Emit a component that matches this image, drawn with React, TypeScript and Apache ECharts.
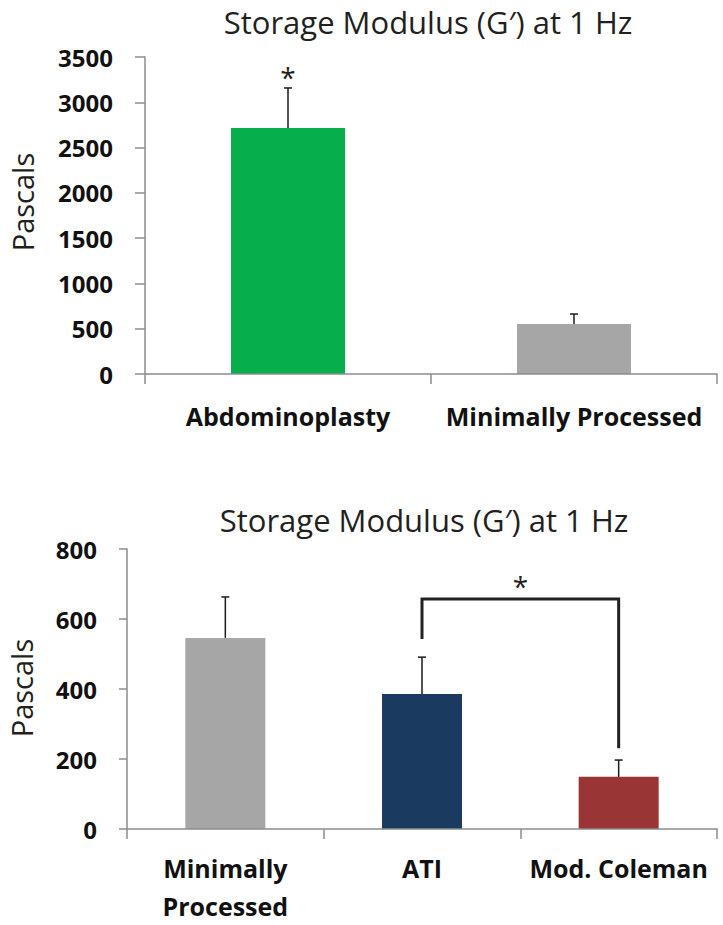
import React, { useEffect, useRef } from "react";
import * as echarts from "echarts";

// ---- Data ----
const titleText = "Storage Modulus (G\u2032) at 1 Hz";
const yAxisTitle = "Pascals";

const topCategories = ["Abdominoplasty", "Minimally Processed"];
const topValues = [2715, 552];
const topErrorTops = [3158, 662];
const topStars = ["*", ""];
const topColors = ["#07AF4C", "#A6A6A6"];
const topYMax = 3500;
const topYInterval = 500;

const bottomCategories = ["Minimally\nProcessed", "ATI", "Mod. Coleman"];
const bottomValues = [546, 386, 149];
const bottomErrorTops = [663, 491, 197];
const bottomColors = ["#A6A6A6", "#1B3A5F", "#993535"];
const bottomYMax = 800;
const bottomYInterval = 200;

// significance bracket between ATI (1) and Mod. Coleman (2)
const bracketFrom = 1;
const bracketTo = 2;
const bracketTopValue = 657;
const bracketLeftEndValue = 543;
const bracketRightEndValue = 231;
const bracketLabel = "*";

const TEXT_COLOR = "#231f20";
const AXIS_COLOR = "#8c8c8c";
const LABEL_FONT = "Open Sans";
const TITLE_FONT = "Open Sans";

function errorRender(params: any, api: any) {
  const x = api.value(0);
  const top = api.value(1);
  const mean = api.value(2);
  const star = params.seriesName === "topErr" ? topStars[params.dataIndex] : "";
  const pTop = api.coord([x, top]);
  const pMean = api.coord([x, mean]);
  const children: any[] = [
    {
      type: "line",
      shape: { x1: pTop[0], y1: pTop[1], x2: pMean[0], y2: pMean[1] },
      style: { stroke: "#1a1a1a", lineWidth: 1.5 },
    },
    {
      type: "line",
      shape: { x1: pTop[0] - 4, y1: pTop[1], x2: pTop[0] + 4, y2: pTop[1] },
      style: { stroke: "#1a1a1a", lineWidth: 1.5 },
    },
  ];
  if (star) {
    children.push({
      type: "text",
      x: pTop[0],
      y: pTop[1] - 11,
      style: {
        text: star,
        align: "center",
        verticalAlign: "middle",
        fontSize: 28,
        fontFamily: TITLE_FONT,
        fill: TEXT_COLOR,
      },
    });
  }
  return { type: "group", children };
}

function bracketRender(params: any, api: any) {
  const c0 = api.value(0);
  const c1 = api.value(1);
  const top = api.value(2);
  const leftEnd = api.value(3);
  const rightEnd = api.value(4);
  const pl = api.coord([c0, top]);
  const pr = api.coord([c1, top]);
  const plEnd = api.coord([c0, leftEnd]);
  const prEnd = api.coord([c1, rightEnd]);
  return {
    type: "group",
    children: [
      {
        type: "polyline",
        shape: {
          points: [
            [plEnd[0], plEnd[1]],
            [pl[0], pl[1]],
            [pr[0], pr[1]],
            [prEnd[0], prEnd[1]],
          ],
        },
        style: { stroke: "#222", lineWidth: 3, fill: "none", lineJoin: "miter" },
      },
      {
        type: "text",
        x: (pl[0] + pr[0]) / 2,
        y: pl[1] - 13,
        style: {
          text: bracketLabel,
          align: "center",
          verticalAlign: "middle",
          fontSize: 28,
          fontFamily: TITLE_FONT,
          fill: TEXT_COLOR,
        },
      },
    ],
  };
}

export default function App() {
  const ref = useRef<HTMLDivElement>(null);

  useEffect(() => {
    document.body.style.margin = "0";
    if (!ref.current) return;
    const chart = echarts.init(ref.current, null, { renderer: "svg" });

    const axisLineStyle = { color: AXIS_COLOR, width: 1.5 };
    const boldLabel = {
      color: "#111",
      fontWeight: "bold" as const,
      fontFamily: LABEL_FONT,
    };
    const plain = (v: number) => String(v);

    const option: any = {
      animation: false,
      backgroundColor: "#ffffff",
      grid: [
        { left: 145, top: 57, width: 572, height: 317 },
        { left: 127, top: 549, width: 590, height: 280 },
      ],
      xAxis: [
        {
          type: "category",
          gridIndex: 0,
          data: topCategories,
          z: 5,
          axisLine: { lineStyle: axisLineStyle },
          axisTick: { show: true, length: 10, lineStyle: axisLineStyle },
          axisLabel: { ...boldLabel, fontSize: 25, margin: 23, lineHeight: 38, interval: 0 },
        },
        {
          type: "category",
          gridIndex: 1,
          data: bottomCategories,
          z: 5,
          axisLine: { lineStyle: axisLineStyle },
          axisTick: { show: true, length: 10, lineStyle: axisLineStyle },
          axisLabel: { ...boldLabel, fontSize: 25, margin: 20, lineHeight: 38, interval: 0 },
        },
      ],
      yAxis: [
        {
          type: "value",
          gridIndex: 0,
          min: 0,
          max: topYMax,
          interval: topYInterval,
          axisLine: { show: true, lineStyle: axisLineStyle },
          axisTick: { show: true, length: 10, lineStyle: axisLineStyle },
          splitLine: { show: false },
          axisLabel: { ...boldLabel, fontSize: 24, margin: 32, formatter: plain },
        },
        {
          type: "value",
          gridIndex: 1,
          min: 0,
          max: bottomYMax,
          interval: bottomYInterval,
          axisLine: { show: true, lineStyle: axisLineStyle },
          axisTick: { show: true, length: 8, lineStyle: axisLineStyle },
          splitLine: { show: false },
          axisLabel: { ...boldLabel, fontSize: 24, margin: 30, formatter: plain },
        },
      ],
      series: [
        {
          name: "topBars",
          type: "bar",
          xAxisIndex: 0,
          yAxisIndex: 0,
          barWidth: 114,
          data: topValues.map((v, i) => ({ value: v, itemStyle: { color: topColors[i] } })),
        },
        {
          name: "topErr",
          type: "custom",
          xAxisIndex: 0,
          yAxisIndex: 0,
          renderItem: errorRender,
          encode: { x: 0, y: [1, 2] },
          z: 4,
          data: topValues.map((v, i) => [i, topErrorTops[i], v]),
        },
        {
          name: "bottomBars",
          type: "bar",
          xAxisIndex: 1,
          yAxisIndex: 1,
          barWidth: 80,
          data: bottomValues.map((v, i) => ({ value: v, itemStyle: { color: bottomColors[i] } })),
        },
        {
          name: "bottomErr",
          type: "custom",
          xAxisIndex: 1,
          yAxisIndex: 1,
          renderItem: errorRender,
          encode: { x: 0, y: [1, 2] },
          z: 4,
          data: bottomValues.map((v, i) => [i, bottomErrorTops[i], v]),
        },
        {
          name: "bracket",
          type: "custom",
          xAxisIndex: 1,
          yAxisIndex: 1,
          renderItem: bracketRender,
          encode: { x: [0, 1], y: [2, 3, 4] },
          z: 4,
          data: [[bracketFrom, bracketTo, bracketTopValue, bracketLeftEndValue, bracketRightEndValue]],
        },
      ],
      graphic: [
        {
          type: "text",
          x: 428,
          y: 22,
          style: {
            text: titleText,
            align: "center",
            verticalAlign: "middle",
            fontSize: 31,
            fontFamily: TITLE_FONT,
            fill: TEXT_COLOR,
          },
        },
        {
          type: "text",
          x: 424,
          y: 520,
          style: {
            text: titleText,
            align: "center",
            verticalAlign: "middle",
            fontSize: 31,
            fontFamily: TITLE_FONT,
            fill: TEXT_COLOR,
          },
        },
        {
          type: "text",
          x: 22,
          y: 202,
          rotation: Math.PI / 2,
          style: {
            text: yAxisTitle,
            align: "center",
            verticalAlign: "middle",
            fontSize: 29,
            fontFamily: TITLE_FONT,
            fill: TEXT_COLOR,
          },
        },
        {
          type: "text",
          x: 21,
          y: 688,
          rotation: Math.PI / 2,
          style: {
            text: yAxisTitle,
            align: "center",
            verticalAlign: "middle",
            fontSize: 29,
            fontFamily: TITLE_FONT,
            fill: TEXT_COLOR,
          },
        },
      ],
    };

    chart.setOption(option);
    return () => chart.dispose();
  }, []);

  return (
    <div
      ref={ref}
      style={{ position: "absolute", left: 0, top: 0, width: 723, height: 925, background: "#fff" }}
    />
  );
}
